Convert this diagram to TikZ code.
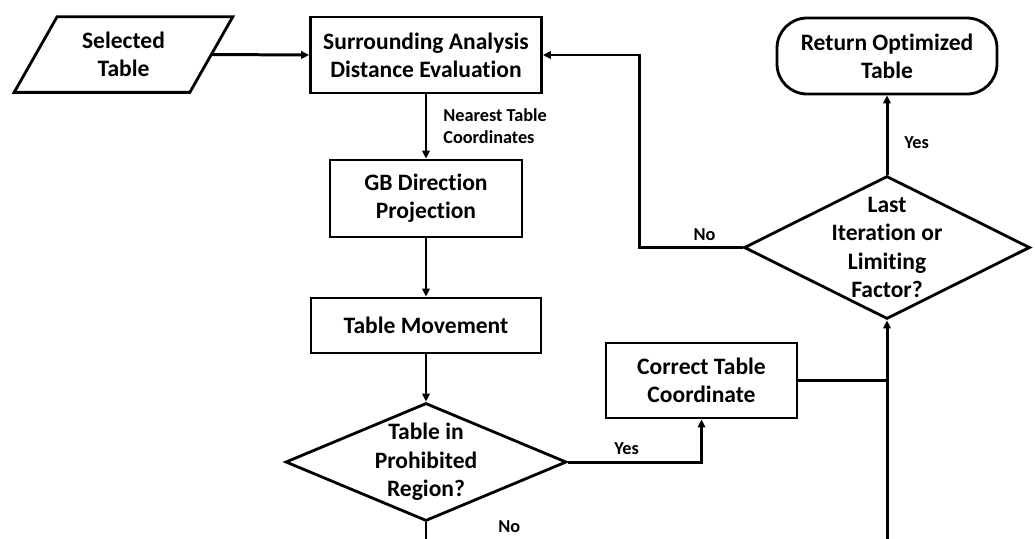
\documentclass[tikz,border=0pt]{standalone}
\usepackage{fontspec}
\setmainfont{Carlito}[Ligatures=NoCommon]
\usetikzlibrary{arrows.meta, positioning, shapes.geometric}

\begin{document}
\begin{tikzpicture}[
    x=0.02cm, y=-0.02cm,
    every node/.style={font=\bfseries\fontsize{13.4}{16.1}\selectfont},
    box/.style={rectangle, draw, line width=1.6pt, align=center, inner sep=0pt},
    io/.style={rectangle, align=center, inner sep=0pt},
    outline/.style={line width=1.6pt, line join=miter},
    decision/.style={diamond, draw, line width=1.6pt, inner sep=0pt},
    terminal/.style={rectangle, rounded corners=0.6cm, draw, line width=1.6pt, align=center, inner sep=0pt},
    note/.style={font=\bfseries\fontsize{10.4}{12.6}\selectfont, align=left},
    dtext/.style={align=center},
    arrow/.style={-{Triangle[length=1.6mm, width=1.5mm]}, line width=1.7pt},
    link/.style={line width=1.7pt}
]
\useasboundingbox (0,0) rectangle (1035,538);

% ============ INPUT ============
\node[io, minimum width=3.5cm, minimum height=1.5cm] (sel) at (123.5,54.5) {Selected\\Table};
% slanted data box around it
\draw[outline] ([xshift=-0.43cm]sel.south west) -- ([xshift=-0.43cm]sel.south east)
    -- ([xshift=0.43cm]sel.north east) -- ([xshift=0.43cm]sel.north west) -- cycle;

% ============ MAIN COLUMN ============
\node[box, minimum width=4.62cm, minimum height=1.52cm] (surr) at (426,55) {Surrounding Analysis\\Distance Evaluation};
\node[box, minimum width=3.84cm, minimum height=1.54cm] (gb) at (426,198.5) {GB Direction\\Projection};
\node[box, minimum width=4.6cm, minimum height=1.1cm] (move) at (426,325.5) {Table Movement};
\node[decision, minimum width=5.62cm, minimum height=2.36cm,
      label={[dtext]center:Table in\\Prohibited\\Region?}] (prohib) at (426,462) {};

% ============ CORRECTION & EXIT ============
\node[box, minimum width=3.82cm, minimum height=1.5cm] (correct) at (701.5,380.5) {Correct Table\\Coordinate};
\node[decision, minimum width=5.72cm, minimum height=2.86cm,
      label={[dtext]center:Last\\Iteration or\\Limiting\\Factor?}] (last) at (887,247.5) {};
\node[terminal, minimum width=4.4cm, minimum height=1.52cm] (ret) at (887,56) {Return Optimized\\Table};

% loose ends running off the bottom
\coordinate (out) at (426,545);
\coordinate (feed) at (887,545);

% ============ ARROWS ============
\draw[arrow] (sel.east) -- (surr.west);
\draw[arrow] (surr) -- node[note, right=0.2cm] {Nearest Table\\Coordinates} (gb);
\draw[arrow] (gb) -- (move);
\draw[arrow] (move) -- (prohib);
\draw[arrow] (prohib.east) -| node[note, above, pos=0.22] {Yes} (correct.south);
\draw[link] (prohib.south) -- node[note, right=1.3cm, pos=0.2] {No} (out);

\draw[arrow] (feed) -- (last.south);
\draw[link] (correct.east) -- (correct.east -| feed);
\draw[arrow] (last) -- node[note, right=0.2cm, pos=0.4] {Yes} (ret);

% back to the start when not done
\draw[arrow] (last.west) -- node[note, above, pos=0.37] {No} ++(-103,0) |- (surr.east);

\end{tikzpicture}
\end{document}
